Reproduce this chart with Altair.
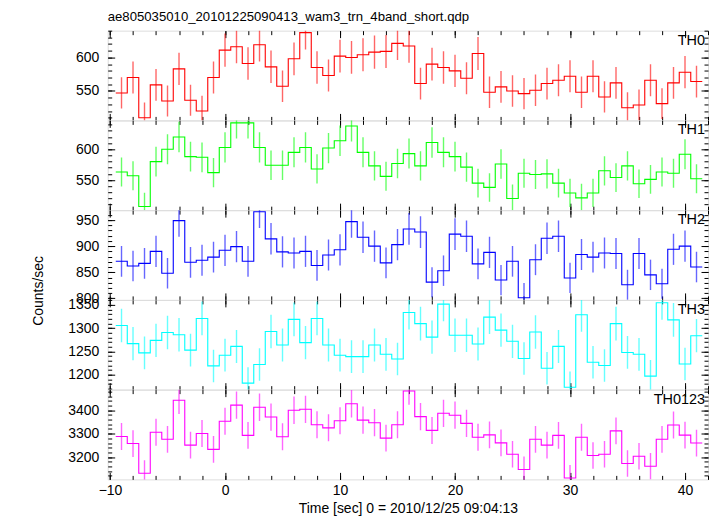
import altair as alt
import pandas as pd

title_text = "ae805035010_20101225090413_wam3_trn_4band_short.qdp"
x_title = "Time [sec] 0 = 2010/12/25 09:04:13"
y_title = "Counts/sec"
bands = ["TH0", "TH1", "TH2", "TH3", "TH0123"]
colors = ["#ff0000", "#00ff00", "#0000ff", "#00ffff", "#ff00ff"]

# bin centres (1 s bins)
times = list(range(-9, 42))
bin_width = 1.0

th0 = [547, 570, 510, 559, 535, 583, 536, 520, 570, 611, 616, 591, 619, 586, 557, 598, 637, 585, 573,
       602, 600, 604, 608, 609, 621, 617, 561, 590, 585, 580, 569, 606, 548, 556, 550, 546, 551, 561,
       566, 572, 548, 572, 541, 562, 525, 529, 566, 531, 562, 578, 564]
th0_err = [23.4, 23.9, 22.6, 23.6, 23.1, 24.1, 23.2, 22.8, 23.9, 24.7, 24.8, 24.3, 24.9, 24.2, 23.6, 24.5,
           25.2, 24.2, 23.9, 24.5, 24.5, 24.6, 24.7, 24.7, 24.9, 24.8, 23.7, 24.3, 24.2, 24.1, 23.9, 24.6,
           23.4, 23.6, 23.5, 23.4, 23.5, 23.7, 23.8, 23.9, 23.4, 23.9, 23.3, 23.7, 22.9, 23.0, 23.8, 23.0,
           23.7, 24.0, 23.7]

th1 = [563, 557, 507, 580, 600, 620, 588, 587, 562, 603, 643, 643, 603, 574, 574, 595, 603, 568, 602,
       614, 638, 595, 573, 556, 577, 593, 573, 611, 595, 588, 571, 545, 538, 576, 520, 561, 559, 560,
       545, 529, 521, 529, 565, 554, 573, 544, 551, 563, 561, 592, 552]
th1_err = [23.7, 23.6, 22.5, 24.1, 24.5, 24.9, 24.2, 24.2, 23.7, 24.6, 25.4, 25.4, 24.6, 24.0, 24.0, 24.4,
           24.6, 23.8, 24.5, 24.8, 25.3, 24.4, 23.9, 23.6, 24.0, 24.4, 23.9, 24.7, 24.4, 24.2, 23.9, 23.3,
           23.2, 24.0, 22.8, 23.7, 23.6, 23.7, 23.3, 23.0, 22.8, 23.0, 23.8, 23.5, 23.9, 23.3, 23.5, 23.7,
           23.7, 24.3, 23.5]

th2 = [871, 862, 867, 890, 848, 949, 869, 873, 879, 892, 899, 871, 966, 914, 889, 887, 890, 863, 883,
       893, 947, 917, 900, 868, 903, 933, 927, 831, 853, 923, 919, 866, 888, 835, 871, 801, 874, 915,
       919, 839, 884, 879, 887, 886, 826, 886, 845, 828, 894, 900, 860]
th2_err = [29.5, 29.4, 29.4, 29.8, 29.1, 30.8, 29.5, 29.5, 29.6, 29.9, 30.0, 29.5, 31.1, 30.2, 29.8, 29.8,
           29.8, 29.4, 29.7, 29.9, 30.8, 30.3, 30.0, 29.5, 30.0, 30.5, 30.4, 28.8, 29.2, 30.4, 30.3, 29.4,
           29.8, 28.9, 29.5, 28.3, 29.6, 30.2, 30.3, 29.0, 29.7, 29.6, 29.8, 29.8, 28.7, 29.8, 29.1, 28.8,
           29.9, 30.0, 29.3]

th3 = [1306, 1267, 1247, 1274, 1291, 1286, 1253, 1321, 1219, 1242, 1261, 1182, 1222, 1293, 1264, 1319,
       1269, 1321, 1264, 1242, 1239, 1239, 1264, 1244, 1234, 1334, 1310, 1281, 1352, 1285, 1285, 1266,
       1324, 1296, 1272, 1235, 1292, 1214, 1261, 1173, 1329, 1227, 1220, 1310, 1248, 1244, 1197, 1355,
       1318, 1223, 1284]
th3_err = [36.1, 35.6, 35.3, 35.7, 35.9, 35.9, 35.4, 36.3, 34.9, 35.2, 35.5, 34.4, 35.0, 36.0, 35.6, 36.3,
           35.6, 36.3, 35.6, 35.2, 35.2, 35.2, 35.6, 35.3, 35.1, 36.5, 36.2, 35.8, 36.8, 35.8, 35.8, 35.6,
           36.4, 36.0, 35.7, 35.1, 35.9, 34.8, 35.5, 34.2, 36.5, 35.0, 34.9, 36.2, 35.3, 35.3, 34.6, 36.8,
           36.3, 35.0, 35.8]

th0123 = [3288, 3258, 3131, 3306, 3276, 3443, 3251, 3301, 3233, 3353, 3422, 3293, 3413, 3371, 3287, 3400,
          3404, 3338, 3325, 3355, 3428, 3358, 3347, 3281, 3338, 3482, 3373, 3314, 3387, 3379, 3344, 3285,
          3295, 3261, 3212, 3147, 3276, 3251, 3293, 3111, 3285, 3207, 3212, 3312, 3173, 3204, 3161, 3276,
          3337, 3294, 3260]
th0123_err = [57.3, 57.1, 56.0, 57.5, 57.2, 58.7, 57.0, 57.5, 56.9, 57.9, 58.5, 57.4, 58.4, 58.1, 57.3, 58.3,
              58.3, 57.8, 57.7, 57.9, 58.5, 57.9, 57.9, 57.3, 57.8, 59.0, 58.1, 57.6, 58.2, 58.1, 57.8, 57.3,
              57.4, 57.1, 56.7, 56.1, 57.2, 57.0, 57.4, 55.8, 57.3, 56.6, 56.7, 57.5, 56.3, 56.6, 56.2, 57.2,
              57.8, 57.4, 57.1]

values = [th0, th1, th2, th3, th0123]
errors = [th0_err, th1_err, th2_err, th3_err, th0123_err]

y_domains = [[506, 640], [501, 647], [797, 969], [1168, 1361], [3105, 3488]]
y_major = [[550, 600], [550, 600], [800, 850, 900, 950], [1200, 1250, 1300, 1350], [3200, 3300, 3400]]
y_minor = [list(range(510, 641, 10)), list(range(510, 641, 10)), list(range(800, 961, 10)),
           list(range(1170, 1361, 10)), list(range(3120, 3481, 20))]
x_major = [-10, 0, 10, 20, 30, 40]
x_minor = list(range(-10, 43, 2))
x_domain = [-10.2, 42.0]

W, H = 602, 90
FONT = "Liberation Sans"
MAJ, MIN = 7, 4


def ax(orient, vals, size, **kw):
    d = dict(orient=orient, values=vals, tickSize=size, offset=-size, domain=False, grid=False,
             labels=False, title=None, tickColor="black", tickWidth=1, format="d")
    d.update(kw)
    return alt.Axis(**d)


def panel(i):
    vals, errs, color = values[i], errors[i], colors[i]
    step_df = pd.DataFrame({
        "t": [t - bin_width / 2 for t in times] + [times[-1] + bin_width / 2],
        "rate": vals + [vals[-1]],
    })
    err_df = pd.DataFrame({
        "t": times,
        "rate": vals,
        "lo": [v - e for v, e in zip(vals, errs)],
        "hi": [v + e for v, e in zip(vals, errs)],
    })
    xs = alt.Scale(domain=x_domain, nice=False, zero=False)
    ys = alt.Scale(domain=y_domains[i], nice=False, zero=False)
    bottom = i == len(bands) - 1

    xkw = {}
    if bottom:
        xkw = dict(labels=True, labelPadding=4, labelFontSize=14, labelFont=FONT, labelColor="black",
                   title=x_title, titlePadding=4, titleFontSize=14, titleFont=FONT,
                   titleFontWeight="normal", titleColor="black")
    ykw = dict(labels=True, labelPadding=9, labelFontSize=14, labelFont=FONT, labelColor="black")

    err = alt.Chart(err_df).mark_rule(color=color, strokeWidth=1.4, opacity=0.6, clip=True).encode(
        x=alt.X("t:Q", scale=xs, axis=ax("bottom", x_minor, MIN)),
        y=alt.Y("lo:Q", scale=ys, axis=ax("left", y_minor[i], MIN)),
        y2="hi:Q",
    )
    line = alt.Chart(step_df).mark_line(color=color, strokeWidth=1.1, interpolate="step-after",
                                        clip=True).encode(
        x=alt.X("t:Q", scale=xs, axis=ax("bottom", x_major, MAJ, **xkw)),
        y=alt.Y("rate:Q", scale=ys, axis=ax("left", y_major[i], MAJ, **ykw)),
    )
    top_major = alt.Chart(err_df).mark_point(opacity=0).encode(
        x=alt.X("t:Q", scale=xs, axis=ax("top", x_major, MAJ)),
        y=alt.Y("rate:Q", scale=ys, axis=ax("right", y_major[i], MAJ)),
    )
    top_minor = alt.Chart(err_df).mark_point(opacity=0).encode(
        x=alt.X("t:Q", scale=xs, axis=ax("top", x_minor, MIN)),
        y=alt.Y("rate:Q", scale=ys, axis=ax("right", y_minor[i], MIN)),
    )
    label = alt.Chart(pd.DataFrame({"band": [bands[i]]})).mark_text(
        align="right", baseline="top", fontSize=14.5, font=FONT, color="black"
    ).encode(x=alt.value(W - 3), y=alt.value(3), text="band:N")
    layers = [err, line, top_major, top_minor, label]

    if i == 2:
        ytitle = alt.Chart(pd.DataFrame({"t": [y_title]})).mark_text(
            align="center", baseline="middle", angle=270, fontSize=14, font=FONT, color="black"
        ).encode(x=alt.value(-69), y=alt.value(81), text="t:N")
        layers.append(ytitle)

    props = dict(width=W, height=H)
    if i == 0:
        props["title"] = alt.TitleParams(title_text, anchor="start", frame="group", fontSize=13.2,
                                         font=FONT, fontWeight="normal", color="black", offset=6)
    return (alt.layer(*layers)
            .resolve_axis(x="independent", y="independent")
            .properties(**props))


chart = alt.vconcat(*[panel(i) for i in range(len(bands))], spacing=0, bounds="flush").properties(
    padding={"left": 23, "top": 0, "right": 0, "bottom": 0}
).configure_view(stroke="black", strokeWidth=1.2).configure(background="white")

chart.save("out.html", embed_options={"renderer": "svg", "actions": False})
